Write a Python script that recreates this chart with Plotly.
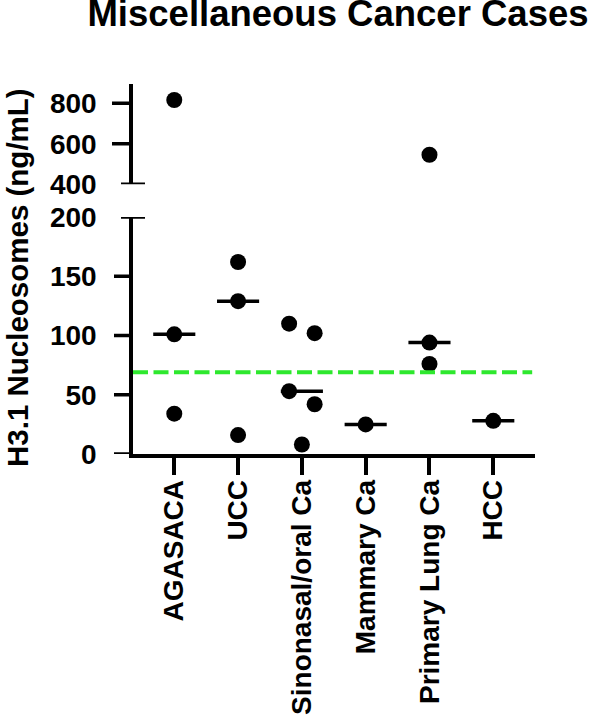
import numpy as np
import plotly.graph_objects as go

# ---------------- data ----------------
categories = ["AGASACA", "UCC", "Sinonasal/oral Ca", "Mammary Ca", "Primary Lung Ca", "HCC"]
agasaca = [816, 101, 34]
ucc = [162, 129, 16]
sinonasal = [110, 102, 53, 42, 8]
mammary = [25]
primary_lung = [546, 94, 76]
hcc = [28]
series_values = [agasaca, ucc, sinonasal, mammary, primary_lung, hcc]
threshold = 69
lower_ticks = [0, 50, 100, 150, 200]
upper_ticks = [400, 600, 800]

# ---------------- style / layout ----------------
W, H = 597, 717
ML, MR, MT, MB = 133, 62, 84, 263
PH = H - MT - MB
low_top = (454 - 217) / PH
up_bot = (454 - 184.3) / PH
break_val = 300
jitter = {2: [-0.2, 0.2, -0.2, 0.2, 0.0]}
FONT = "Arial, Liberation Sans, Helvetica, sans-serif"
BLACK = "#000000"

fig = go.Figure()
for i, vals in enumerate(series_values):
    offs = jitter.get(i, [0.0] * len(vals))
    xs = [i + o for o in offs]
    lo = [(x, v) for x, v in zip(xs, vals) if v < break_val]
    hi = [(x, v) for x, v in zip(xs, vals) if v >= break_val]
    if lo:
        fig.add_trace(go.Scatter(x=[p[0] for p in lo], y=[p[1] for p in lo], mode="markers",
                                 marker=dict(size=16, color=BLACK), xaxis="x", yaxis="y",
                                 showlegend=False, cliponaxis=False))
    if hi:
        fig.add_trace(go.Scatter(x=[p[0] for p in hi], y=[p[1] for p in hi], mode="markers",
                                 marker=dict(size=16, color=BLACK), xaxis="x", yaxis="y2",
                                 showlegend=False, cliponaxis=False))
    med = float(np.median(vals))
    fig.add_trace(go.Scatter(x=[i - 0.33, i + 0.33], y=[med, med], mode="lines",
                             line=dict(color=BLACK, width=3.5), xaxis="x",
                             yaxis="y" if med < break_val else "y2",
                             showlegend=False, cliponaxis=False))

shapes = []
# threshold dashed line
shapes.append(dict(type="line", xref="paper", yref="y", x0=0, x1=0.993, y0=threshold, y1=threshold,
                   line=dict(color="#2ee82e", width=4, dash="15px,5.5px"), layer="above"))
# y ticks as shapes (break caps at 200 / 400 are centred on the axis)
for v in lower_ticks:
    if v == lower_ticks[-1]:
        x0, x1 = -12, 12
    else:
        x0, x1 = -19, 0
    shapes.append(dict(type="line", xref="paper", xsizemode="pixel", xanchor=0, x0=x0, x1=x1,
                       yref="y", y0=v, y1=v, line=dict(color=BLACK, width=3.5)))
for v in upper_ticks:
    if v == upper_ticks[0]:
        x0, x1 = -12, 12
    else:
        x0, x1 = -21, 0
    shapes.append(dict(type="line", xref="paper", xsizemode="pixel", xanchor=0, x0=x0, x1=x1,
                       yref="y2", y0=v, y1=v, line=dict(color=BLACK, width=3.5)))

tickfont = dict(family=FONT, size=28, color=BLACK, weight="bold")
fig.update_layout(
    width=W, height=H,
    margin=dict(l=ML, r=MR, t=MT, b=MB, pad=0, autoexpand=False),
    paper_bgcolor="white", plot_bgcolor="white",
    showlegend=False,
    title=dict(text="Miscellaneous Cancer Cases", x=338 / W, xanchor="center",
               y=1, yanchor="top", yref="container", automargin=False,
               font=dict(family=FONT, size=36.5, color=BLACK, weight="bold")),
    xaxis=dict(range=[-0.647, 5.654], tickvals=list(range(len(categories))), ticktext=categories,
               tickangle=-90, ticks="outside", ticklen=17, tickwidth=3.5, tickcolor=BLACK,
               showline=True, linewidth=3.5, linecolor=BLACK, showgrid=False, zeroline=False,
               anchor="y", ticklabelstandoff=-6, automargin=False,
               tickfont=dict(family=FONT, size=28, color=BLACK, weight="bold")),
    yaxis=dict(domain=[0, low_top], range=[0, 200], tickvals=lower_ticks, ticks="",
               showline=True, linewidth=3.5, linecolor=BLACK, showgrid=False, zeroline=False,
               anchor="x", ticklabelstandoff=27, tickfont=tickfont, automargin=False),
    yaxis2=dict(domain=[up_bot, 1], range=[400, 895], tickvals=upper_ticks, ticks="",
                showline=True, linewidth=3.5, linecolor=BLACK, showgrid=False, zeroline=False,
                anchor="x", ticklabelstandoff=27, tickfont=tickfont, automargin=False),
    shapes=shapes,
    annotations=[dict(text="H3.1 Nucleosomes (ng/mL)", textangle=-90, xref="paper", yref="paper",
                      x=-(ML - 17) / (W - ML - MR), y=(454 - 278) / PH, xanchor="center",
                      yanchor="middle", showarrow=False,
                      font=dict(family=FONT, size=29.5, color=BLACK, weight="bold"))],
)

fig.write_html("out.html", config={"displayModeBar": False},
               post_script="document.body.style.margin='0';document.body.style.overflow='hidden';")
